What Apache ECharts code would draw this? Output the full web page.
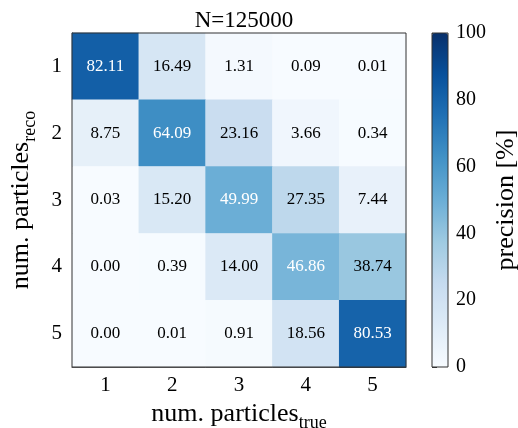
<!DOCTYPE html>
<html lang="en" style="height: 100%">

<head>
    <meta charset="utf-8">
</head>

<body style="height: 100%; margin: 0">
    <div id="container" style="width: 518px; height: 428px"></div>

    <script type="text/javascript" src="https://cdn.jsdelivr.net/npm/echarts@6/dist/echarts.min.js"></script>

    <script type="text/javascript">
        // categories
        var trueLabels = ['1', '2', '3', '4', '5'];
        var recoLabels = ['1', '2', '3', '4', '5'];

        // precision [%], one array per reco row, columns = true
        var reco1 = [82.11, 16.49, 1.31, 0.09, 0.01];
        var reco2 = [8.75, 64.09, 23.16, 3.66, 0.34];
        var reco3 = [0.03, 15.20, 49.99, 27.35, 7.44];
        var reco4 = [0.00, 0.39, 14.00, 46.86, 38.74];
        var reco5 = [0.00, 0.01, 0.91, 18.56, 80.53];
        var rows = [reco1, reco2, reco3, reco4, reco5];

        // colorbar ticks
        var barMin = 0;
        var barMax = 100;
        var barStep = 20;

        var FONT = 'Liberation Serif';
        var blues = ['#f7fbff', '#deebf7', '#c6dbef', '#9ecae1', '#6baed6',
            '#4292c6', '#2171b5', '#08519c', '#08306b'];

        var data = [];
        rows.forEach(function (row, y) {
            row.forEach(function (v, x) {
                data.push({
                    value: [x, y, v],
                    label: { color: v > 45 ? '#ffffff' : '#000000' }
                });
            });
        });

        // subscript: both tokens top aligned, sub pushed down with padding
        var nameRich = {
            a: { fontSize: 26, fontFamily: FONT, color: '#000', verticalAlign: 'top', lineHeight: 26 },
            b: { fontSize: 18, fontFamily: FONT, color: '#000', verticalAlign: 'top', lineHeight: 18, padding: [13, 0, 0, 0] }
        };

        var myChart = echarts.init(document.getElementById('container'), null, { renderer: 'canvas' });

        var option = {
            animation: false,
            textStyle: { fontFamily: FONT },
            title: {
                text: 'N=125000',
                left: 239,
                textAlign: 'center',
                top: 4,
                textStyle: { fontFamily: FONT, fontSize: 23, fontWeight: 'normal', color: '#000' }
            },
            grid: [
                {
                    left: 72, top: 33, width: 334, height: 334, outerBoundsMode: 'none',
                    show: true, borderColor: '#333', borderWidth: 1, backgroundColor: 'transparent', z: 10
                },
                {
                    left: 432, top: 33, width: 16, height: 334, outerBoundsMode: 'none',
                    show: true, borderColor: '#333', borderWidth: 1, backgroundColor: 'transparent', z: 10
                }
            ],
            xAxis: [
                {
                    type: 'category',
                    data: trueLabels,
                    gridIndex: 0,
                    position: 'bottom',
                    axisLine: { lineStyle: { color: '#333' } },
                    axisTick: { alignWithLabel: true, length: 5, lineStyle: { color: '#333' } },
                    axisLabel: { fontSize: 21, color: '#000', margin: 8, fontFamily: FONT },
                    splitArea: { show: false },
                    name: '{a|num. particles}{b|true}',
                    nameLocation: 'middle',
                    nameGap: 33,
                    nameTextStyle: { rich: nameRich }
                },
                { type: 'value', gridIndex: 1, show: false, min: 0, max: 1 }
            ],
            yAxis: [
                {
                    type: 'category',
                    data: recoLabels,
                    inverse: true,
                    gridIndex: 0,
                    axisLine: { lineStyle: { color: '#333' } },
                    axisTick: { alignWithLabel: true, length: 5, lineStyle: { color: '#333' } },
                    axisLabel: { fontSize: 21, color: '#000', margin: 10, fontFamily: FONT },
                    splitArea: { show: false },
                    name: '{a|num. particles}{b|reco}',
                    nameLocation: 'middle',
                    nameRotate: 90,
                    nameGap: 38,
                    nameTextStyle: { rich: nameRich }
                },
                {
                    type: 'value',
                    gridIndex: 1,
                    position: 'right',
                    min: barMin,
                    max: barMax,
                    interval: barStep,
                    axisLine: { show: false },
                    axisTick: { show: true, length: 5, lineStyle: { color: '#333' } },
                    axisLabel: { fontSize: 20, color: '#000', margin: 8, fontFamily: FONT },
                    splitLine: { show: false },
                    name: 'precision [%]',
                    nameLocation: 'middle',
                    nameRotate: 90,
                    nameGap: 45,
                    nameTextStyle: { fontSize: 26, fontFamily: FONT, color: '#000' }
                }
            ],
            visualMap: {
                type: 'continuous',
                min: barMin,
                max: barMax,
                seriesIndex: 0,
                calculable: false,
                orient: 'vertical',
                left: 432,
                top: 33,
                padding: 0,
                itemWidth: 16,
                itemHeight: 334,
                inRange: { color: blues }
            },
            series: [
                {
                    type: 'heatmap',
                    xAxisIndex: 0,
                    yAxisIndex: 0,
                    data: data,
                    label: {
                        show: true,
                        fontSize: 17,
                        fontFamily: FONT,
                        formatter: function (p) { return p.value[2].toFixed(2); }
                    },
                    itemStyle: { borderWidth: 0 },
                    emphasis: { disabled: true }
                }
            ]
        };

        myChart.setOption(option);
        window.addEventListener('resize', myChart.resize);
    </script>
</body>

</html>
